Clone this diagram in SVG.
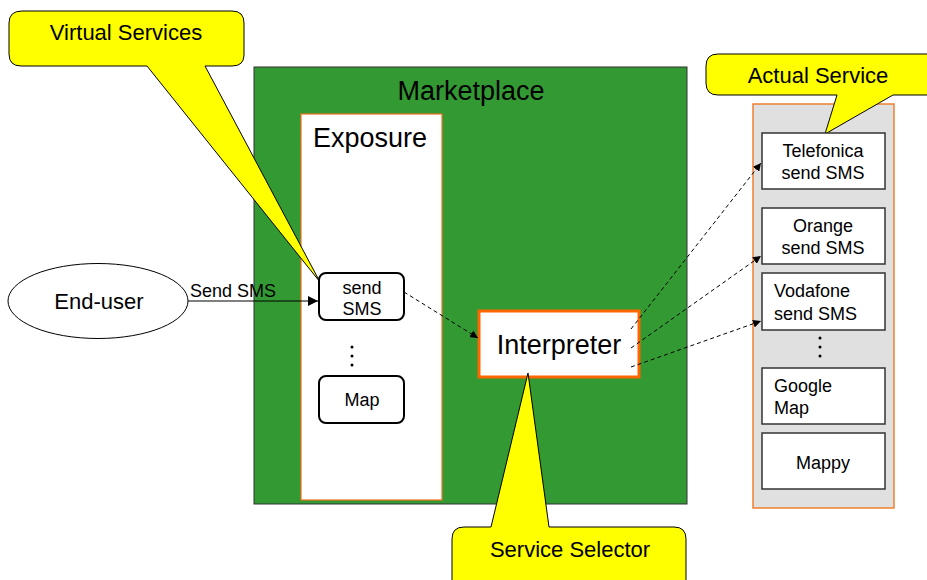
<svg xmlns="http://www.w3.org/2000/svg" width="927" height="580" viewBox="0 0 927 580">
<style>
text{font-family:"Liberation Sans",Arial,sans-serif;fill:#000}
.callout{fill:#ffff00;stroke:#000;stroke-width:1}
.box{fill:#fff;stroke:#000;stroke-width:2}
.svc{fill:#fff;stroke:#333;stroke-width:1.5}
.dash{fill:none;stroke:#000;stroke-width:1;stroke-dasharray:4,3}
.f16{font-size:18px}
.f22{font-size:22px}
.f27{font-size:27px}
.c{text-anchor:middle}
</style>
<defs>
<marker id="ah" viewBox="0 0 10 10" refX="10" refY="5" markerWidth="8" markerHeight="8" orient="auto" markerUnits="userSpaceOnUse"><path d="M0,0 L10,5 L0,10 z" fill="#000"/></marker>
<marker id="ahs" viewBox="0 0 10 10" refX="10" refY="5" markerWidth="10" markerHeight="10" orient="auto" markerUnits="userSpaceOnUse"><path d="M0,0 L10,5 L0,10 z" fill="#000"/></marker>
</defs>

<g id="marketplace">
<rect x="254" y="67" width="433" height="437" fill="#339933" stroke="#333" stroke-width="1"/>
<text x="471" y="100" class="c f27">Marketplace</text>
</g>

<g id="exposure">
<rect x="301" y="114" width="141" height="386" fill="#fff" stroke="#f07020" stroke-width="1.2"/>
<text x="313" y="147" class="f27">Exposure</text>
</g>

<g id="actual-services">
<rect x="753" y="104" width="141" height="404" fill="#e0e0e0" stroke="#f08030" stroke-width="1.5"/>
</g>

<g id="virtual-services-callout">
<path class="callout" d="M22,11 H232 Q244,11 244,23 V55 Q244,66 232,66 H205 L320,282 L147,66 H21 Q9,66 9,54 V23 Q9,11 22,11 Z"/>
<text x="126" y="40" class="c f22">Virtual Services</text>
</g>

<g id="end-user">
<ellipse cx="98" cy="301" rx="90" ry="37.5" fill="#fff" stroke="#000" stroke-width="1"/>
<text x="99" y="309" class="c f22">End-user</text>
</g>

<g id="send-sms">
<rect class="box" x="319" y="273" width="85" height="47" rx="7"/>
<text x="362" y="294" class="c f16">send</text>
<text x="362" y="315" class="c f16">SMS</text>
</g>

<g id="dots-left">
<circle cx="352" cy="347" r="1.5" fill="#000"/>
<circle cx="352" cy="356" r="1.5" fill="#000"/>
<circle cx="352" cy="365" r="1.5" fill="#000"/>
</g>

<g id="map">
<rect class="box" x="319" y="376" width="85" height="47" rx="7"/>
<text x="362" y="406" class="c f16">Map</text>
</g>

<g id="interpreter">
<rect x="479" y="311" width="160" height="66" fill="#fff" stroke="#ff6600" stroke-width="3"/>
<text x="559" y="354" class="c f27">Interpreter</text>
</g>

<g id="service-selector-callout">
<path class="callout" d="M464,527 H491 L528,373 L549,527 H674 Q686,527 686,539 V585 H452 V539 Q452,527 464,527 Z"/>
<text x="570" y="557" class="c f22">Service Selector</text>
</g>

<g id="actual-service-callout">
<path class="callout" d="M718,54 H935 V95 H893 L825,134 L837,95 H718 Q706,95 706,83 V66 Q706,54 718,54 Z"/>
<text x="818" y="83" class="c f22">Actual Service</text>
</g>

<g id="telefonica">
<rect class="svc" x="762" y="133" width="123" height="56"/>
<text x="823" y="157" class="c f16">Telefonica</text>
<text x="823" y="179" class="c f16">send SMS</text>
</g>

<g id="orange">
<rect class="svc" x="762" y="208" width="123" height="56"/>
<text x="823" y="232" class="c f16">Orange</text>
<text x="823" y="254" class="c f16">send SMS</text>
</g>

<g id="vodafone">
<rect class="svc" x="762" y="273" width="123" height="57"/>
<text x="774" y="297" class="f16">Vodafone</text>
<text x="774" y="320" class="f16">send SMS</text>
</g>

<g id="dots-right">
<circle cx="820" cy="338" r="1.5" fill="#000"/>
<circle cx="820" cy="347" r="1.5" fill="#000"/>
<circle cx="820" cy="356" r="1.5" fill="#000"/>
</g>

<g id="google-map">
<rect class="svc" x="762" y="368" width="123" height="56"/>
<text x="774" y="392" class="f16">Google</text>
<text x="774" y="414" class="f16">Map</text>
</g>

<g id="mappy">
<rect class="svc" x="762" y="433" width="123" height="56"/>
<text x="823" y="469" class="c f16">Mappy</text>
</g>

<g id="connectors">
<line x1="188" y1="301" x2="318" y2="301" stroke="#000" stroke-width="1" marker-end="url(#ahs)"/>
<text x="190" y="297" class="f16">Send SMS</text>
<line class="dash" x1="404" y1="292" x2="478" y2="338" marker-end="url(#ah)"/>
<line class="dash" x1="631" y1="329" x2="761" y2="163" marker-end="url(#ah)"/>
<line class="dash" x1="631" y1="348" x2="761" y2="256" marker-end="url(#ah)"/>
<line class="dash" x1="631" y1="367" x2="761" y2="321" marker-end="url(#ah)"/>
</g>
</svg>
